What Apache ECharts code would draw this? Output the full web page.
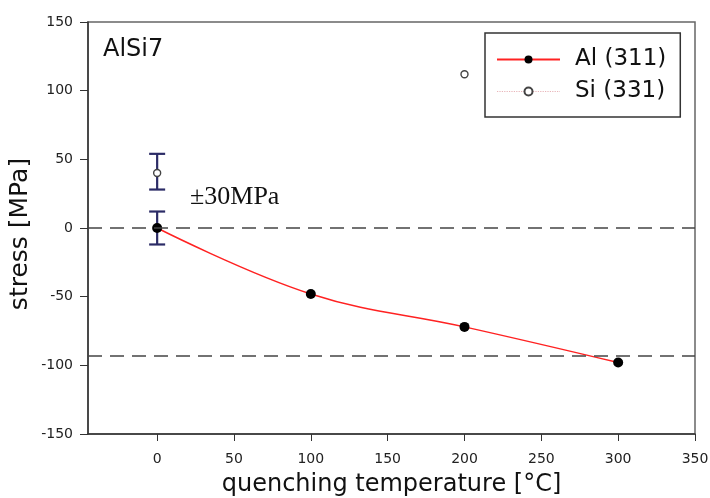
<!DOCTYPE html>
<html>
<head>
<meta charset="utf-8">
<script src="https://cdn.jsdelivr.net/npm/echarts@6/dist/echarts.min.js"></script>
<style>html,body{margin:0;padding:0;background:#fff}#c{width:710px;height:498px}</style>
</head>
<body>
<div id="c"></div>
<script>
// Data
const alTemps = [0, 100, 200, 300];
const alStress = [0, -48, -72, -98];
const siTemps = [0, 200];
const siStress = [40, 112];
const errTemps = [0, 0];
const errLow = [-12, 28];
const errHigh = [12, 54];
const refLines = [0, -93];
const xTicks = [0, 50, 100, 150, 200, 250, 300, 350];
const yTicks = [-150, -100, -50, 0, 50, 100, 150];

const font = '"DejaVu Sans", "Liberation Sans", Arial, sans-serif';
const chart = echarts.init(document.getElementById('c'), null, {renderer: 'canvas'});

const errData = errTemps.map((t, i) => [t, errLow[i], errHigh[i]]);

chart.setOption({
  animation: false,
  backgroundColor: '#fff',
  grid: {left: 88, top: 22, right: 15, bottom: 64, show: true, borderColor: '#666', borderWidth: 1.5,
         containLabel: false, outerBoundsMode: 'none'},
  xAxis: {
    type: 'value', min: -45, max: 350,
    name: 'quenching temperature [°C]', nameLocation: 'middle', nameGap: 39,
    nameTextStyle: {fontFamily: font, fontSize: 24, color: '#111'},
    axisLine: {show: true, onZero: false, lineStyle: {color: '#333', width: 1.5}},
    axisTick: {show: true, length: 7, customValues: xTicks, lineStyle: {color: '#333'}},
    axisLabel: {customValues: xTicks, fontFamily: font, fontSize: 14, color: '#222', margin: 18},
    splitLine: {show: false}
  },
  yAxis: {
    type: 'value', min: yTicks[0], max: yTicks[yTicks.length - 1], interval: 50,
    name: 'stress [MPa]', nameLocation: 'middle', nameGap: 55, nameMoveOverlap: false,
    nameTextStyle: {fontFamily: font, fontSize: 25, color: '#111', padding: [0, 12, 0, 0]},
    axisLine: {show: true, onZero: false, lineStyle: {color: '#333', width: 1.5}},
    axisTick: {show: true, length: 8, lineStyle: {color: '#333'}},
    axisLabel: {fontFamily: font, fontSize: 14, color: '#222', margin: 15},
    splitLine: {show: false}
  },
  legend: {
    left: 485, top: 33, orient: 'vertical',
    padding: [15, 14, 14, 11], itemGap: 9,
    itemWidth: 63, itemHeight: 10,
    borderColor: '#333', borderWidth: 1.5, backgroundColor: '#fff',
    textStyle: {fontFamily: font, fontSize: 23, color: '#111', padding: [0, 0, 0, 10]},
    data: [
      {name: 'Al (311)'},
      {name: 'Si (331)', lineStyle: {color: '#e8b4b8', type: 'dotted', width: 1.2, opacity: 1}}
    ]
  },
  graphic: [
    {type: 'text', left: 103, top: 38, style: {text: 'AlSi7', font: '24px ' + font, fill: '#111'}},
    {type: 'text', left: 190, top: 184, style: {text: '±30MPa', font: '26px "Liberation Serif", "Times New Roman", serif', fill: '#111'}}
  ],
  series: [
    {
      name: 'ref', type: 'line', data: [], silent: true,
      markLine: {
        silent: true, symbol: ['none', 'none'], label: {show: false},
        lineStyle: {color: '#444', type: [14, 8], width: 1.5},
        data: refLines.map(v => ({yAxis: v}))
      }
    },
    {
      name: 'Al (311)', type: 'line', smooth: 0.4,
      data: alTemps.map((t, i) => [t, alStress[i]]),
      lineStyle: {color: '#ff2222', width: 1.5},
      itemStyle: {color: '#000'},
      symbol: 'circle', symbolSize: 10, z: 3
    },
    {
      name: 'Si (331)', type: 'line',
      data: siTemps.map((t, i) => [t, siStress[i]]),
      lineStyle: {opacity: 0, width: 0},
      itemStyle: {color: '#fff', borderColor: '#444', borderWidth: 1.4},
      symbol: 'circle', symbolSize: 7, z: 4
    },
    {
      name: 'err', type: 'custom', z: 2,
      data: errData,
      renderItem: function (params, api) {
        const x = api.value(0);
        const lo = api.coord([x, api.value(1)]);
        const hi = api.coord([x, api.value(2)]);
        const w = 8;
        const st = {stroke: '#2b2b66', lineWidth: 2.2};
        return {
          type: 'group',
          children: [
            {type: 'line', shape: {x1: lo[0], y1: lo[1], x2: hi[0], y2: hi[1]}, style: st},
            {type: 'line', shape: {x1: lo[0] - w, y1: lo[1], x2: lo[0] + w, y2: lo[1]}, style: st},
            {type: 'line', shape: {x1: hi[0] - w, y1: hi[1], x2: hi[0] + w, y2: hi[1]}, style: st}
          ]
        };
      }
    }
  ]
});
</script>
</body>
</html>
